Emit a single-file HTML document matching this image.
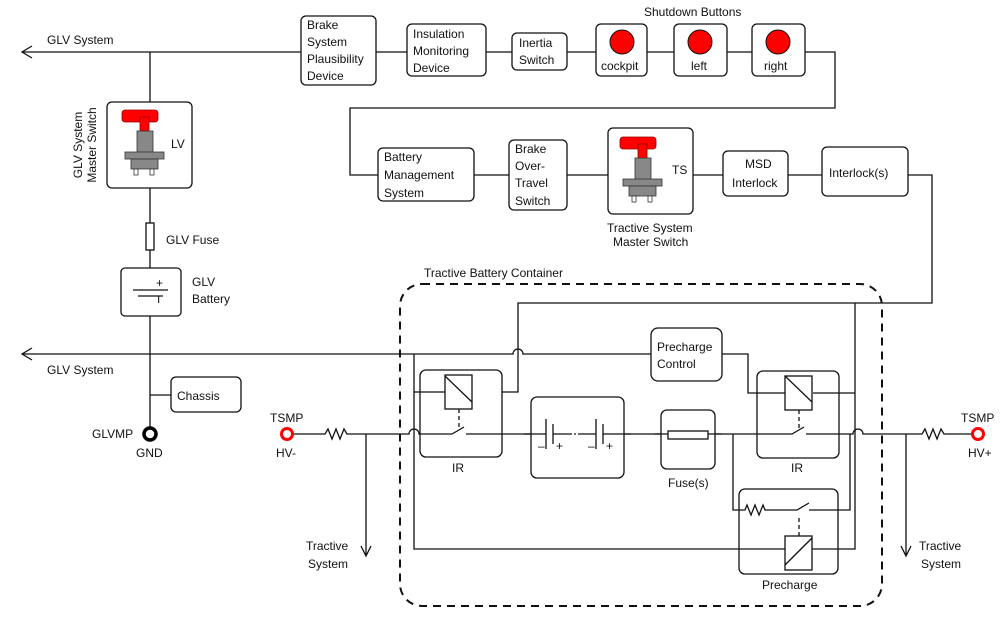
<!DOCTYPE html>
<html><head><meta charset="utf-8"><style>
body{margin:0;background:#fff}
svg{display:block}
text{font-family:"Liberation Sans",sans-serif;font-size:12px;fill:#111}
.b{fill:#fff;stroke:#111;stroke-width:1.3}
.l{fill:none;stroke:#111;stroke-width:1.3}
</style></head><body>
<svg width="1000" height="628" viewBox="0 0 1000 628" xmlns="http://www.w3.org/2000/svg">
<defs>
<g id="ms">
<rect x="122" y="110" width="36" height="12" rx="3" fill="#f00" stroke="#900" stroke-width="0.8"/>
<rect x="140" y="117" width="9" height="15" fill="#f00" stroke="#900" stroke-width="0.8"/>
<rect x="137" y="131" width="16" height="22" fill="#888" stroke="#333" stroke-width="0.8"/>
<rect x="125" y="152" width="39" height="7" fill="#888" stroke="#333" stroke-width="0.8"/>
<rect x="131" y="159" width="27" height="10" fill="#888" stroke="#333" stroke-width="0.8"/>
<rect x="134" y="169" width="4" height="6" fill="#fff" stroke="#333" stroke-width="0.8"/>
<rect x="150" y="169" width="4" height="6" fill="#fff" stroke="#333" stroke-width="0.8"/>
</g>
</defs>
<path class="l" d="M22 52H301M32 46L22 52L32 58"/>
<path class="l" d="M150 52V102M150 188V223M150 250V268M150 316V434M150 395H171"/>
<path class="l" d="M376 52H407M486 52H512M567 52H596M647 52H674M727 52H752M805 52H835V108H350V175H378M474 175H509M567 175H608M693 175H723M788 175H822M908 175H932V303H518V392H472M855 303V549H414V354"/>
<rect class="b" x="301" y="16" width="75" height="69" rx="5"/>
<text x="307" y="29">Brake</text><text x="307" y="46">System</text><text x="307" y="63">Plausibility</text><text x="307" y="80">Device</text>
<rect class="b" x="407" y="24" width="79" height="52" rx="5"/>
<text x="413" y="38">Insulation</text><text x="413" y="55">Monitoring</text><text x="413" y="72">Device</text>
<rect class="b" x="512" y="33" width="55" height="37" rx="5"/>
<text x="519" y="47">Inertia</text><text x="519" y="64">Switch</text>
<text x="644" y="16">Shutdown Buttons</text>
<rect class="b" x="596" y="24" width="51" height="52" rx="5"/><circle cx="622" cy="42" r="12" fill="#f00" stroke="#111"/><text x="601" y="70">cockpit</text>
<rect class="b" x="674" y="24" width="53" height="52" rx="5"/><circle cx="700" cy="42" r="12" fill="#f00" stroke="#111"/><text x="691" y="70">left</text>
<rect class="b" x="752" y="24" width="53" height="52" rx="5"/><circle cx="778" cy="42" r="12" fill="#f00" stroke="#111"/><text x="764" y="70">right</text>
<rect class="b" x="378" y="148" width="96" height="53" rx="5"/>
<text x="384" y="161">Battery</text><text x="384" y="179">Management</text><text x="384" y="197">System</text>
<rect class="b" x="509" y="140" width="58" height="70" rx="5"/>
<text x="515" y="153">Brake</text><text x="515" y="170">Over-</text><text x="515" y="187">Travel</text><text x="515" y="205">Switch</text>
<rect class="b" x="608" y="128" width="85" height="86" rx="5"/>
<use href="#ms" transform="translate(498,27)"/>
<text x="672" y="174">TS</text>
<text x="607" y="232">Tractive System</text><text x="613" y="246">Master Switch</text>
<rect class="b" x="723" y="151" width="65" height="45" rx="5"/>
<text x="745" y="168">MSD</text><text x="732" y="187">Interlock</text>
<rect class="b" x="822" y="147" width="86" height="49" rx="5"/>
<text x="829" y="177">Interlock(s)</text>
<rect class="b" x="107" y="102" width="85" height="86" rx="5"/>
<use href="#ms"/>
<text x="171" y="148">LV</text>
<text transform="translate(82,145) rotate(-90)" text-anchor="middle">GLV System</text>
<text transform="translate(96,145) rotate(-90)" text-anchor="middle">Master Switch</text>
<rect class="b" x="146" y="223" width="8" height="27"/>
<text x="166" y="244">GLV Fuse</text>
<rect class="b" x="121" y="268" width="60" height="48" rx="4"/>
<path class="l" d="M133 290H168M138 296H163"/>
<text x="156" y="287" font-size="10">+</text><text x="157" y="303" font-size="9">ı</text>
<text x="192" y="286">GLV</text><text x="192" y="303">Battery</text>
<path class="l" d="M22 354H513a5 5 0 0 1 10 0H651M32 348L22 354L32 360"/>
<text x="47" y="374">GLV System</text>
<text x="47" y="44">GLV System</text>
<rect class="b" x="171" y="377" width="70" height="35" rx="5"/>
<text x="177" y="400" font-size="14">Chassis</text>
<circle cx="150" cy="434" r="6" fill="#fff" stroke="#000" stroke-width="3.5"/>
<text x="92" y="438">GLVMP</text><text x="136" y="457">GND</text>
<rect x="400" y="284" width="482" height="322" rx="22" fill="none" stroke="#111" stroke-width="2" stroke-dasharray="8,6"/>
<text x="424" y="277">Tractive Battery Container</text>
<!-- left IR box behind bus -->
<rect x="420" y="370" width="82" height="87" rx="6" fill="#fff" stroke="#111" stroke-width="1.3"/>
<rect x="757" y="371" width="82" height="87" rx="6" fill="#fff" stroke="#111" stroke-width="1.3"/>
<path class="l" d="M293 434H325l3-5 4 10 4-10 4 10 4-10 3 5H409a5 5 0 0 1 10 0H452L464 427M466 434H733M733 434H792L804 427M806 434H853a5 5 0 0 1 10 0H922l3-5 4 10 4-10 4 10 4-10 3 5H972"/>
<circle cx="287" cy="434" r="5.5" fill="#fff" stroke="#f00" stroke-width="3"/>
<circle cx="978" cy="434" r="5.5" fill="#fff" stroke="#f00" stroke-width="3"/>
<text x="270" y="422">TSMP</text><text x="276" y="457">HV-</text>
<text x="961" y="422">TSMP</text><text x="968" y="457">HV+</text>
<path class="l" d="M366 434V556M361 546L366 556L371 546M906 434V556M901 546L906 556L911 546"/>
<text x="306" y="550">Tractive</text><text x="308" y="568">System</text>
<text x="919" y="550">Tractive</text><text x="921" y="568">System</text>
<path class="l" d="M414 392H445"/>
<rect class="b" x="445" y="375" width="27" height="34"/>
<path class="l" d="M445 376L472 402"/>
<path class="l" d="M459 409V428" stroke-dasharray="4,3"/>
<text x="452" y="472">IR</text>
<rect class="b" x="531" y="397" width="93" height="81" rx="6"/>
<path class="l" d="M524 434H546M553 434H570M578 434H596M603 434H631M546 419V449M553 424V444M596 419V449M603 424V444"/>
<path class="l" d="M570 434H578" stroke-dasharray="2,2"/>
<text x="538" y="450" font-size="10">–</text><text x="556" y="450" font-size="10">+</text>
<text x="588" y="450" font-size="10">–</text><text x="606" y="450" font-size="10">+</text>
<rect class="b" x="661" y="410" width="54" height="59" rx="6"/>
<path class="l" d="M654 434H722"/>
<rect class="b" x="668" y="431" width="40" height="8"/>
<text x="668" y="487">Fuse(s)</text>
<rect class="b" x="651" y="328" width="71" height="53" rx="7"/>
<text x="657" y="351">Precharge</text><text x="657" y="368">Control</text>
<path class="l" d="M722 354H748V393H785M813 393H855"/>
<rect class="b" x="785" y="376" width="27" height="34"/>
<path class="l" d="M785 376L812 402"/>
<path class="l" d="M799 410V428" stroke-dasharray="4,3"/>
<text x="791" y="472">IR</text>
<rect x="739" y="489" width="99" height="85" rx="6" fill="none" stroke="#111" stroke-width="1.3"/>
<path class="l" d="M733 434V510H745l2-5 4 10 4-10 4 10 4-10 2 5H797L809 503M809 510H850V434"/>
<rect class="b" x="785" y="536" width="27" height="34"/>
<path class="l" d="M785 565L812 538"/>
<path class="l" d="M799 518V536" stroke-dasharray="4,3"/>
<text x="762" y="589">Precharge</text>
</svg>
</body></html>
